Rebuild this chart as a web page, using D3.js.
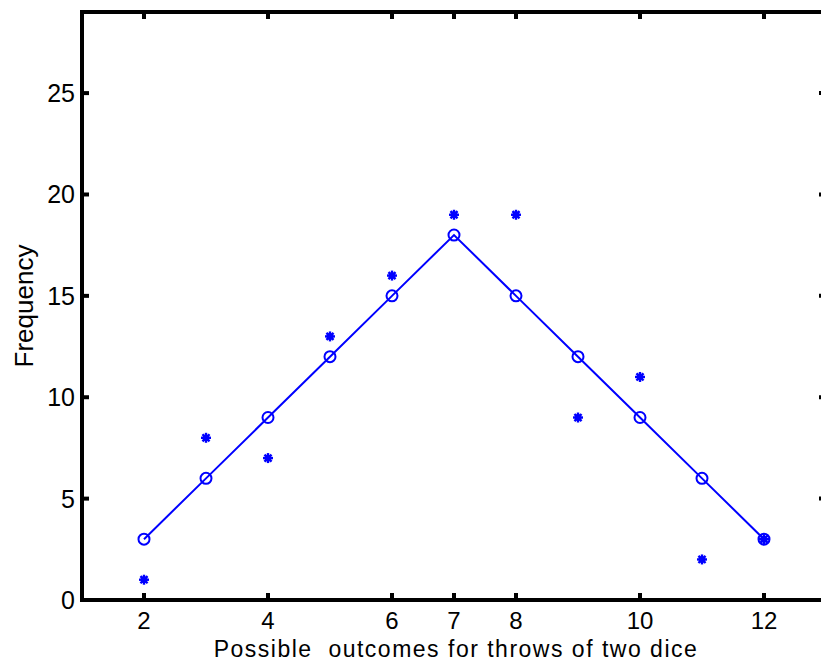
<!DOCTYPE html>
<html>
<head>
<meta charset="utf-8">
<script src="https://cdn.jsdelivr.net/npm/d3@7"></script>
<style>
  body { margin: 0; background: #fff; }
  svg { display: block; }
</style>
</head>
<body>
<div id="chart"></div>
<script>
// outcomes of two dice and what was counted
const outcomes = [2, 3, 4, 5, 6, 7, 8, 9, 10, 11, 12];
const observed = [1, 8, 7, 13, 16, 19, 19, 9, 11, 2, 3];
const expected = [3, 6, 9, 12, 15, 18, 15, 12, 9, 6, 3];
const xTicks = [2, 4, 6, 7, 8, 10, 12];
const yTicks = [0, 5, 10, 15, 20, 25];

const W = 821, H = 667;
const margin = { top: 12, right: -5, bottom: 67, left: 82 };
const width = W - margin.left - margin.right;
const height = H - margin.top - margin.bottom;
const blue = '#0000ff';

const svg = d3.select('#chart').append('svg')
    .attr('width', W)
    .attr('height', H)
    .style('font-family', 'Liberation Sans, Arial, sans-serif');

const g = svg.append('g')
    .attr('transform', 'translate(' + margin.left + ',' + margin.top + ')');

const x = d3.scaleLinear().domain([1, 13]).range([0, width]);
const y = d3.scaleLinear().domain([0, 29]).range([height, 0]);

// expected counts line + circles
const line = d3.line()
    .x((d, i) => x(outcomes[i]))
    .y(d => y(d));

g.append('path')
    .datum(expected)
    .attr('d', line)
    .attr('fill', 'none')
    .attr('stroke', blue)
    .attr('stroke-width', 2);

g.selectAll('.ring')
    .data(expected)
    .enter().append('circle')
    .attr('cx', (d, i) => x(outcomes[i]))
    .attr('cy', d => y(d))
    .attr('r', 5.5)
    .attr('fill', 'none')
    .attr('stroke', blue)
    .attr('stroke-width', 2);

// observed counts as asterisks
const star = g.selectAll('.star')
    .data(observed)
    .enter().append('g')
    .attr('transform', (d, i) => 'translate(' + x(outcomes[i]) + ',' + y(d) + ')');

[0, 45, 90, 135].forEach(a => {
    star.append('line')
        .attr('x1', -5).attr('x2', 5)
        .attr('y1', 0).attr('y2', 0)
        .attr('transform', 'rotate(' + a + ')')
        .attr('stroke', blue)
        .attr('stroke-width', 2.4);
});
star.append('circle').attr('r', 3.4).attr('fill', blue);

// box
g.append('rect')
    .attr('x', 0).attr('y', 0)
    .attr('width', width).attr('height', height)
    .attr('fill', 'none')
    .attr('stroke', '#000')
    .attr('stroke-width', 4);

// ticks on all four sides, pointing inward
const tl = 7;
xTicks.forEach(t => {
    g.append('line').attr('x1', x(t)).attr('x2', x(t)).attr('y1', height).attr('y2', height - tl)
        .attr('stroke', '#000').attr('stroke-width', 4);
    g.append('line').attr('x1', x(t)).attr('x2', x(t)).attr('y1', 0).attr('y2', tl)
        .attr('stroke', '#000').attr('stroke-width', 4);
    g.append('text').attr('x', x(t)).attr('y', height + 29)
        .attr('text-anchor', 'middle').attr('font-size', 24).text(t);
});
yTicks.forEach(t => {
    g.append('line').attr('x1', 0).attr('x2', tl).attr('y1', y(t)).attr('y2', y(t))
        .attr('stroke', '#000').attr('stroke-width', 4);
    g.append('line').attr('x1', width).attr('x2', width - tl).attr('y1', y(t)).attr('y2', y(t))
        .attr('stroke', '#000').attr('stroke-width', 4);
    g.append('text').attr('x', -7).attr('y', y(t) + 9)
        .attr('text-anchor', 'end').attr('font-size', 25).text(t);
});

// axis titles
svg.append('text')
    .attr('x', 456).attr('y', 657)
    .attr('text-anchor', 'middle')
    .attr('font-size', 23)
    .attr('letter-spacing', 1.5)
    .attr('xml:space', 'preserve')
    .text('Possible  outcomes for throws of two dice');

svg.append('text')
    .attr('transform', 'translate(33,306) rotate(-90)')
    .attr('text-anchor', 'middle')
    .attr('font-size', 26)
    .text('Frequency');
</script>
</body>
</html>
